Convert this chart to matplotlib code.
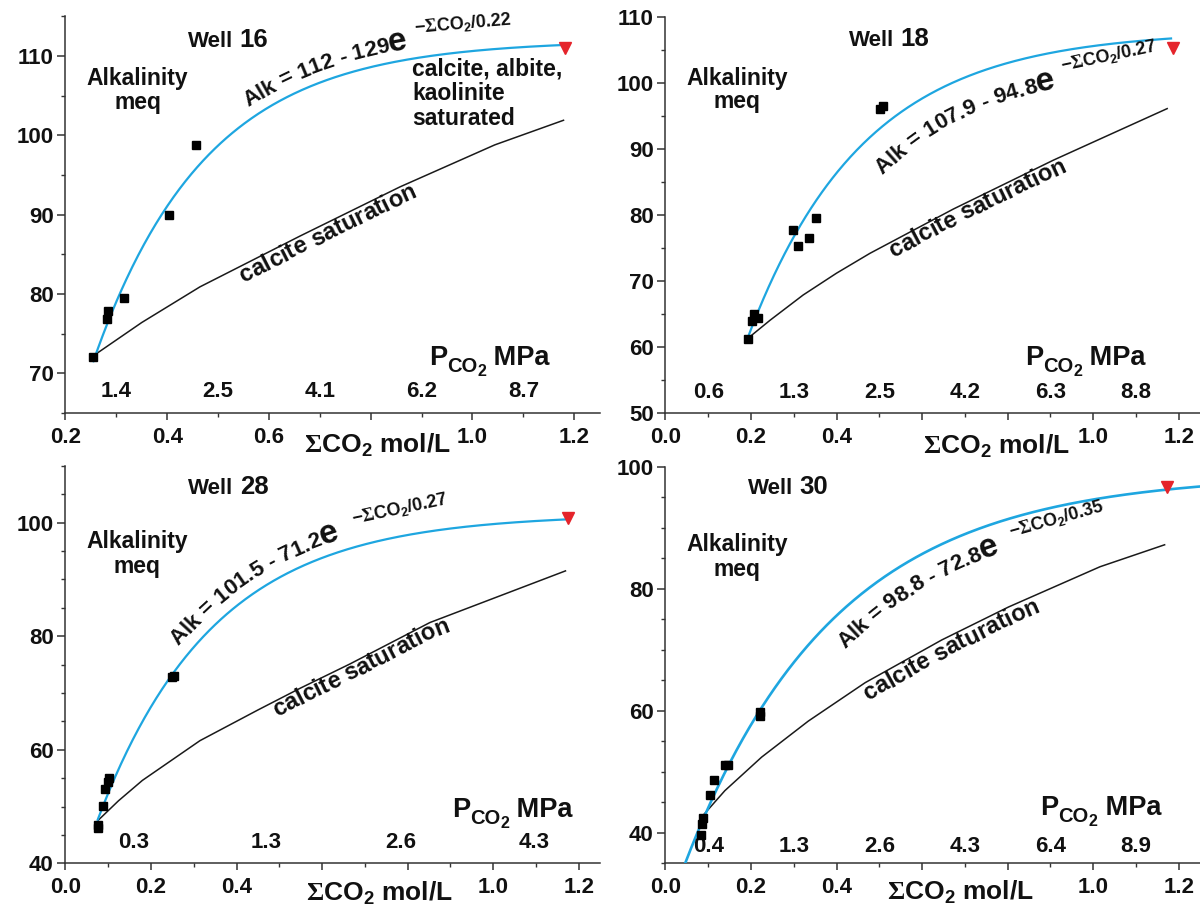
import numpy as np
import matplotlib
matplotlib.use("Agg")
import matplotlib.pyplot as plt
from matplotlib.font_manager import FontProperties
from matplotlib.ticker import MultipleLocator

plt.rcParams.update({
    'font.family': ['Liberation Sans', 'DejaVu Sans'],
    'font.weight': 'bold',
    'mathtext.fontset': 'custom',
    'mathtext.rm': 'Liberation Sans:bold',
    'mathtext.sf': 'Liberation Sans',
    'mathtext.tt': 'Liberation Serif',
    'mathtext.default': 'rm',
})

BLUE = '#1ea6e0'
RED = '#e5242b'
INK = '#111111'
AXIS = '#333333'

# ---- measured samples: total dissolved CO2 (mol/L) vs alkalinity (meq) ----
w16_co2 = [0.255, 0.281, 0.284, 0.315, 0.404, 0.456]
w16_alk = [72.1, 76.9, 77.9, 79.5, 90.0, 98.75]
w18_co2 = [0.192, 0.202, 0.208, 0.217, 0.298, 0.311, 0.336, 0.352, 0.501, 0.508]
w18_alk = [61.2, 63.9, 65.1, 64.4, 77.8, 75.3, 76.5, 79.5, 96.1, 96.5]
w28_co2 = [0.0755, 0.077, 0.0887, 0.0926, 0.099, 0.103, 0.250, 0.254]
w28_alk = [46.7, 46.2, 50.1, 53.0, 54.4, 55.0, 72.8, 73.0]
w30_co2 = [0.0827, 0.0853, 0.088, 0.104, 0.114, 0.139, 0.147, 0.220, 0.222]
w30_alk = [39.6, 41.5, 42.4, 46.2, 48.6, 51.1, 51.1, 59.8, 59.1]

# ---- calcite saturation curves ----
sat16_co2 = [0.257, 0.35, 0.4645, 0.661, 0.8575, 1.044, 1.179]
sat16_alk = [72.3, 76.4, 80.9, 87.3, 93.5, 98.8, 101.9]
sat18_co2 = [0.192, 0.245, 0.322, 0.400, 0.478, 0.673, 0.907, 1.016, 1.173]
sat18_alk = [61.3, 64.1, 67.9, 71.2, 74.2, 80.9, 88.3, 91.5, 96.1]
sat28_co2 = [0.077, 0.124, 0.18, 0.3146, 0.45, 0.548, 0.665, 0.852, 1.169]
sat28_alk = [47.6, 51.0, 54.6, 61.6, 67.0, 70.8, 75.1, 82.4, 91.5]
sat30_co2 = [0.0886, 0.139, 0.225, 0.334, 0.467, 0.646, 0.802, 1.016, 1.167]
sat30_alk = [42.9, 46.9, 52.4, 58.3, 64.6, 71.6, 77.0, 83.6, 87.2]

# ---- fitted curves Alk = a - b*exp(-CO2/c), with the CO2 span drawn ----
fit16 = (112.0, 129.0, 0.22)
fit18 = (107.9, 94.8, 0.27)
fit28 = (101.5, 71.2, 0.27)
fit30 = (98.8, 72.8, 0.35)
span16 = (0.255, 1.18)
span18 = (0.192, 1.182)
span28 = (0.0755, 1.17)
span30 = (0.045, 1.25)

# ---- calcite + albite + kaolinite saturated end points ----
end_co2 = [1.182, 1.187, 1.176, 1.173]
end_alk = [111.0, 105.2, 100.8, 96.6]

# ---- CO2 partial pressure (MPa) scale written inside each panel ----
p16_x = [0.3, 0.5, 0.7, 0.9, 1.1]
p16_lab = ['1.4', '2.5', '4.1', '6.2', '8.7']
p18_x = [0.1, 0.3, 0.5, 0.7, 0.9, 1.1]
p18_lab = ['0.6', '1.3', '2.5', '4.2', '6.3', '8.8']
p28_x = [0.16, 0.47, 0.785, 1.095]
p28_lab = ['0.3', '1.3', '2.6', '4.3']
p30_x = [0.1, 0.3, 0.5, 0.7, 0.9, 1.1]
p30_lab = ['0.4', '1.3', '2.6', '4.3', '6.4', '8.9']

wells = ['16', '18', '28', '30']

PT = 0.72  # points per pixel at 100 dpi


def advance(renderer, s, fp):
    w2 = renderer.get_text_width_height_descent('x' + s + 'x', fp, ismath=False)[0]
    w1 = renderer.get_text_width_height_descent('xx', fp, ismath=False)[0]
    return w2 - w1


def text_on_curve(ax, cx, cy, x_start, pieces, offset, color=INK):
    """Write text letter by letter along a curve, shifted by offset pixels."""
    renderer = ax.figure.canvas.get_renderer()
    pts = ax.transData.transform(np.column_stack([cx, cy]))
    tang = np.gradient(pts, axis=0)
    tang /= np.hypot(tang[:, 0], tang[:, 1])[:, None]
    normal = np.column_stack([-tang[:, 1], tang[:, 0]])
    path = pts + offset * normal
    s = np.concatenate([[0.0], np.cumsum(np.hypot(*np.diff(path, axis=0).T))])
    pos = np.interp(ax.transData.transform((x_start, 0))[0], path[:, 0], s)

    def at(t):
        return np.array([np.interp(t, s, path[:, 0]), np.interp(t, s, path[:, 1])])

    inv = ax.transData.inverted()
    for text, size in pieces:
        fp = FontProperties(family='Liberation Sans', weight='bold', size=size)
        for ch in text:
            w = advance(renderer, ch, fp)
            a, b = at(pos), at(pos + w)
            ang = np.degrees(np.arctan2(b[1] - a[1], b[0] - a[0]))
            if ch.strip():
                x, y = inv.transform(a)
                ax.text(x, y, ch, fontproperties=fp, rotation=ang,
                        rotation_mode='anchor', ha='left', va='baseline',
                        color=color, clip_on=False, zorder=5)
            pos += w


def rich_label(ax, x, base_px, pieces, color=INK):
    """Left-aligned run of text pieces (text, size, drop_px) above the x axis."""
    renderer = ax.figure.canvas.get_renderer()
    cur = 0.0
    for text, size, drop in pieces:
        fp = FontProperties(family='Liberation Sans', weight='bold', size=size)
        ax.annotate(text, xy=(x, 0), xycoords=('data', 'axes fraction'),
                    xytext=(cur * PT, (base_px - drop) * PT), textcoords='offset points',
                    ha='left', va='baseline', fontproperties=fp, color=color)
        cur += advance(renderer, text, fp)


fig = plt.figure(figsize=(12, 9.09), dpi=100)

panels = [
    dict(rect=[0.0545, 0.5457, 0.4452, 0.4363], xlim=(0.2, 1.25), ylim=(65, 115), ymaj=10,
         xshow=[0.2, 0.4, 0.6, 1.0, 1.2],
         co2=w16_co2, alk=w16_alk, sx=sat16_co2, sy=sat16_alk, fit=fit16, span=span16,
         px=p16_x, plab=p16_lab, ppad=21, blw=1.6,
         well=(0.4415, 111.15), alkpos=(0.342, 106.3), alkgap=23.3,
         pco2=(0.914, 48), xlab=(0.6686, 40),
         eq=(0.559, 11), calc=(0.5497, -16), expo=(0.887, 112.96, 5)),
    dict(rect=[0.5545, 0.5453, 0.4456, 0.4363], xlim=(0.0, 1.25), ylim=(50, 110), ymaj=10,
         xshow=[0.0, 0.2, 0.4, 1.0, 1.2],
         co2=w18_co2, alk=w18_alk, sx=sat18_co2, sy=sat18_alk, fit=fit18, span=span18,
         px=p18_x, plab=p18_lab, ppad=21, blw=1.6,
         well=(0.4297, 105.5), alkpos=(0.1685, 99.7), alkgap=23.3,
         pco2=(0.8406, 48), xlab=(0.602, 40),
         eq=(0.508, -36), calc=(0.533, -15), expo=(0.926, 101.8, 12)),
    dict(rect=[0.0545, 0.0503, 0.4456, 0.4372], xlim=(0.0, 1.25), ylim=(40, 110), ymaj=20,
         xshow=[0.0, 0.2, 0.4, 1.0, 1.2],
         co2=w28_co2, alk=w28_alk, sx=sat28_co2, sy=sat28_alk, fit=fit28, span=span28,
         px=p28_x, plab=p28_lab, ppad=21, blw=1.6,
         well=(0.2877, 105.05), alkpos=(0.1685, 95.5), alkgap=25,
         pco2=(0.9035, 46.6), xlab=(0.562, 38),
         eq=(0.265, 12), calc=(0.494, -15), expo=(0.672, 99.8, 12)),
    dict(rect=[0.5545, 0.0503, 0.4456, 0.4363], xlim=(0.0, 1.25), ylim=(35, 100), ymaj=20,
         xshow=[0.0, 0.2, 0.4, 1.0, 1.2],
         co2=w30_co2, alk=w30_alk, sx=sat30_co2, sy=sat30_alk, fit=fit30, span=span30,
         px=p30_x, plab=p30_lab, ppad=17, blw=1.9,
         well=(0.193, 95.5), alkpos=(0.1685, 86.1), alkgap=25,
         pco2=(0.8766, 48), xlab=(0.517, 37),
         eq=(0.42, -30), calc=(0.474, -17), expo=(0.807, 88.4, 15.7)),
]

for i, p in enumerate(panels):
    ax = fig.add_axes(p['rect'])
    ax.set_xlim(*p['xlim'])
    ax.set_ylim(*p['ylim'])
    for side in ('top', 'right'):
        ax.spines[side].set_visible(False)
    for side in ('left', 'bottom'):
        ax.spines[side].set_linewidth(1.1)
        ax.spines[side].set_color(AXIS)

    xt = np.round(np.arange(p['xlim'][0], 1.21, 0.2), 1)
    ax.set_xticks(xt)
    ax.set_xticklabels([f'{v:.1f}' if any(abs(v - s) < 1e-6 for s in p['xshow']) else ''
                        for v in xt])
    ax.xaxis.set_minor_locator(MultipleLocator(0.1))
    ax.yaxis.set_major_locator(MultipleLocator(p['ymaj']))
    ax.yaxis.set_minor_locator(MultipleLocator(5))
    ax.tick_params(axis='x', which='major', length=5, width=1.1, pad=5,
                   labelsize=16, color=AXIS, labelcolor=INK)
    ax.tick_params(axis='x', which='minor', length=3, width=1.0, color=AXIS)
    ax.tick_params(axis='y', which='major', length=5.5, width=1.1, pad=3,
                   labelsize=16, color=AXIS, labelcolor=INK)
    ax.tick_params(axis='y', which='minor', length=3, width=1.0, color=AXIS)

    # fitted exponential curve
    a, b, c = p['fit']
    fx = np.linspace(p['span'][0], p['span'][1], 400)
    fy = a - b * np.exp(-fx / c)
    ax.plot(fx, fy, color=BLUE, lw=p['blw'], zorder=3)
    # calcite saturation
    ax.plot(p['sx'], p['sy'], color='#1a1a1a', lw=1.1, zorder=2)
    # samples
    ax.plot(p['co2'], p['alk'], 's', color='black', ms=6, zorder=4)
    ax.plot(end_co2[i], end_alk[i], 'v', color=RED, ms=8, zorder=4)

    # equation along the fitted curve
    eq_txt = f'Alk = {a:g} - {b:g}'
    text_on_curve(ax, fx, fy, p['eq'][0], [(eq_txt, 16), ('e', 24)], p['eq'][1])
    ex, ey, er = p['expo']
    ax.text(ex, ey, r'$\mathsf{-}\mathtt{\Sigma}\mathsf{CO_2/' + f'{c:g}' + r'}$',
            fontsize=13, rotation=er, rotation_mode='anchor', ha='left', va='baseline',
            color=INK, zorder=5)

    # calcite saturation label along the black curve
    text_on_curve(ax, p['sx'], p['sy'], p['calc'][0], [('calcite saturation', 17)], p['calc'][1])

    # well name
    wx, wy = p['well']
    t1 = ax.text(wx, wy, 'Well', fontsize=16, ha='left', va='baseline', color=INK)
    ax.annotate(wells[i], xy=(1, 0), xycoords=t1, xytext=(4.5, 0), textcoords='offset points',
                ha='left', va='bottom', fontsize=18.5, color=INK)

    # axis title inside
    axx, axy = p['alkpos']
    ax.text(axx, axy, 'Alkalinity', fontsize=16.5, ha='center', va='baseline', color=INK)
    ax.annotate('meq', xy=(axx, axy), xytext=(0, -p['alkgap'] * PT), textcoords='offset points',
                ha='center', va='baseline', fontsize=16.5, color=INK)

    # partial pressure scale
    for xv, lab in zip(p['px'], p['plab']):
        ax.annotate(lab, xy=(xv, 0), xycoords=('data', 'axes fraction'),
                    xytext=(0, p['ppad'] * PT), textcoords='offset points',
                    ha='center', va='center', fontsize=16, color=INK)
    rich_label(ax, p['pco2'][0], p['pco2'][1],
               [('P', 19.5, 0), ('CO', 14.5, 7), ('2', 11.5, 11), (' MPa', 19.5, 0)])

    # x axis title
    ax.annotate(r'$\mathtt{\Sigma}$CO$_2$ mol/L', xy=(p['xlab'][0], 0),
                xycoords=('data', 'axes fraction'),
                xytext=(0, -p['xlab'][1] * PT), textcoords='offset points',
                ha='left', va='baseline', fontsize=19, color=INK, annotation_clip=False)

    if i == 0:
        for k, line in enumerate(['calcite, albite,', 'kaolinite', 'saturated']):
            ax.annotate(line, xy=(0.881, 107.6), xytext=(0, -25 * k * PT),
                        textcoords='offset points', ha='left', va='baseline',
                        fontsize=16.5, color=INK)

fig.savefig('out.png', dpi=100)
